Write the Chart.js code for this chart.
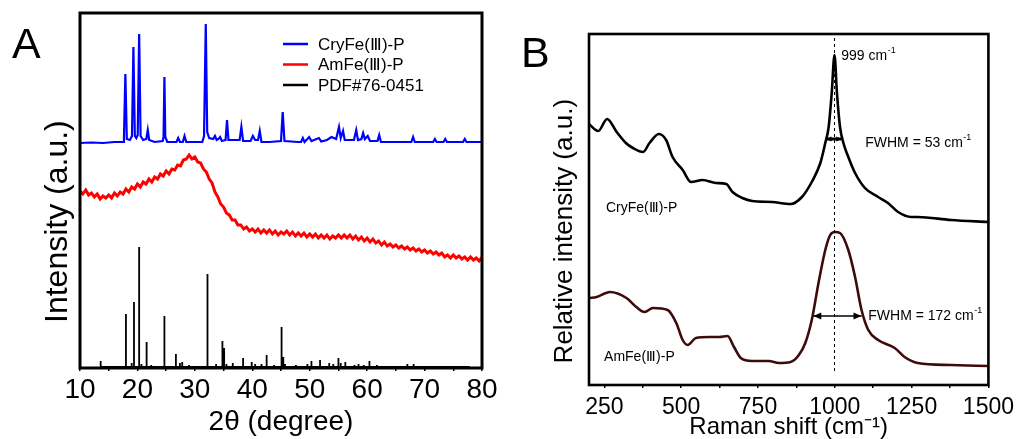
<!DOCTYPE html>
<html><head><meta charset="utf-8">
<script src="https://cdn.jsdelivr.net/npm/chart.js@4.4.1/dist/chart.umd.min.js"></script>
<style>
html,body{margin:0;padding:0;background:#fff;width:1020px;height:439px;overflow:hidden;}
.panel{position:absolute;top:0;width:510px;height:439px;}
.lbl{position:absolute;font-family:'Liberation Sans',Arial,sans-serif;font-size:43px;line-height:43px;color:#000;}
</style></head><body>
<div class="panel" style="left:0"><canvas id="cA" width="510" height="439" style="width:510px;height:439px"></canvas></div>
<div class="panel" style="left:510px"><canvas id="cB" width="510" height="439" style="width:510px;height:439px"></canvas></div>
<div class="lbl" style="left:12px;top:22px">A</div>
<div class="lbl" style="left:521px;top:31px">B</div>
<script>
// ---------------- Panel A : XRD ----------------
const xrdTicks = [10,15,20,25,30,35,40,45,50,55,60,65,70,75,80];
const xrdLabels = ['CryFe(Ⅲ)-P','AmFe(Ⅲ)-P','PDF#76-0451'];

const cryTheta = [10,12,14,16,17.5,17.65,17.9,18.15,18.7,19.05,19.3,19.55,19.8,20.05,20.3,20.55,21.0,21.55,21.8,22.05,23,24.4,24.55,24.7,24.85,25.2,26.8,27.1,27.4,27.9,28.2,28.5,31.3,31.6,31.9,32.15,32.5,33.2,33.5,33.8,34.1,34.4,34.7,35.35,35.6,35.85,37.8,38.1,38.4,39.7,40.1,40.5,41.0,41.3,41.6,43,45.0,45.3,45.6,48,48.5,48.8,49.1,49.9,50.3,51.6,52,53,53.8,54.6,55.1,55.4,55.8,56.1,57.7,58.1,58.4,59.0,59.3,59.6,60.1,60.5,61.8,62.1,62.4,65,67.7,68.0,68.3,71.5,71.8,72.1,73.3,73.6,73.9,76.7,77.0,77.3,80];
const cryInt   = [225,225.5,225,226,226,229,294,229,228,232,321,232,230,233,334,232,228,229,238,228,226,227,231,291,231,226,226,230,226,226,232,226,226,232,344,236,230,229,232,228,229,231,227,228,248,228,228,241,227,227,232,228,228,237,226,226,227,256,227,226,226,230,226,231,227,230,226.5,228,231,229,241,230,237,228,228,238,228,229,235,229,232,227,227,233,226,226,226,231,226,226,229,226,226,229,226,226,229,226,226];

const amTheta = [10,10.5,11,11.5,12,12.5,13,13.5,14,14.5,15,15.5,16,16.5,17,17.5,18,18.5,19,19.5,20,20.5,21,21.5,22,22.5,23,23.5,24,24.5,25,25.5,26,26.5,27,27.5,28,28.5,29,29.5,30,30.5,31,31.5,32,32.5,33,33.5,34,34.5,35,35.5,36,36.5,37,37.5,38,38.5,39,39.5,40,40.5,41,41.5,42,42.5,43,43.5,44,44.5,45,45.5,46,46.5,47,47.5,48,48.5,49,49.5,50,50.5,51,51.5,52,52.5,53,53.5,54,54.5,55,55.5,56,56.5,57,57.5,58,58.5,59,59.5,60,60.5,61,61.5,62,62.5,63,63.5,64,64.5,65,65.5,66,66.5,67,67.5,68,68.5,69,69.5,70,70.5,71,71.5,72,72.5,73,73.5,74,74.5,75,75.5,76,76.5,77,77.5,78,78.5,79,79.5,80];
const amInt   = [177,174,178,173,175,171,174,169,172,170,173,170,175,172,176,174,179,176,181,179,184,181,186,184,189,186,191,189,194,192,197,194,199,198,203,202,208,209,213,209,211,206,205,199,196,189,185,176,171,164,161,155,153,148,148,143,143,139,141,137,139,136,139,135,138,135,138,134,137,133,136,134,137,133,136,132,135,132,135,131,134,131,134,130,133,130,133,129,132,130,133,130,133,130,133,129,132,128,131,127,130,126,129,125,127,123,126,122,124,121,123,120,122,119,121,118,120,117,119,116,118,115,117,114,116,113,115,111,113,110,113,110,112,109,111,108,111,108,110,107,111];

const pdfTheta = [13.6,18.0,19.0,19.4,20.3,20.7,21.6,22.4,24.7,26.7,27.4,27.8,29.0,32.2,33.7,34.8,35.1,35.5,36.6,38.4,39.9,40.5,41.6,42.5,43.8,45.1,45.4,45.7,47.6,49.6,50.3,51.8,53.4,54.1,55.0,55.4,56.2,57.8,58.5,59.4,60.4,61.7,62.4,64.6,67.0,68.1,71.6,75.3,76.2,77.7];
const pdfInt   = [7,54,5,66,121,4,26,3,52,14,5,6,3,94,4,27,20,4,5,10,6,4,4,13,3,41,11,4,3,4,7,8,5,4,10,5,6,3,4,3,7,3,2,2,4,4,2,2,2,2];
const pdfBase = 1;

// ---------------- Panel B : Raman ----------------
const ramanTicks = [250,375,500,625,750,875,1000,1125,1250,1375,1500];
const ramanLabels = ['CryFe(Ⅲ)-P','AmFe(Ⅲ)-P'];
const cryShift = [200,230,259,290,320,343,376,397,427,451,472,505,532,570,613,647,667,699,731,796,856,893,925,953,969,980,990,999,1007,1017,1028,1044,1066,1098,1141,1173,1206,1249,1270,1378,1500];
const cryRaman = [261,254,266,253,242,237,233,242,251,245,228,215,203,205,202,201,193,187,184,183,181,188,203,222,242,258,292,330,292,258,242,228,212,197,188,182,173,168,168,165,163];
const amShift = [200,225,268,322,354,381,408,456,484,505,521,548,591,624,651,672,694,731,785,818,856,883,904,925,947,969,985,1001,1017,1044,1066,1087,1109,1141,1195,1227,1270,1378,1500];
const amRaman = [87,88,93,87,78,73,77,75,62,45,40,47,48,48,49,38,27,24,24,22,23,30,42,65,102,135,150,153,152,135,108,75,55,45,37,28,22,20,19];
const peakShift = 999;
const fwhmCry = [973,1021];  // FWHM = 53
const fwhmAm  = [930,1087];  // FWHM = 172

const FONT = "'Liberation Sans', Arial, sans-serif";
const pairs = (xs, ys) => xs.map((x, i) => ({x, y: ys[i]}));

function stickData() {
  const out = [];
  pdfTheta.forEach((t, i) => {
    out.push({x: t, y: pdfBase}, {x: t, y: pdfInt[i]}, {x: t, y: pdfBase});
  });
  return out;
}

const framePlugin = {
  id: 'frame',
  afterDatasetsDraw(chart, args, opts) {
    const {ctx, chartArea: a} = chart;
    ctx.save();
    ctx.strokeStyle = '#000';
    ctx.lineWidth = opts.width || 2.5;
    ctx.strokeRect(a.left, a.top, a.right - a.left, a.bottom - a.top);
    ctx.restore();
  }
};

function drawSupText(ctx, x, y, main, sup, size) {
  ctx.font = size + 'px ' + FONT;
  ctx.textBaseline = 'middle';
  ctx.textAlign = 'left';
  ctx.fillStyle = '#000';
  ctx.fillText(main, x, y);
  if (sup) {
    const w = ctx.measureText(main).width;
    ctx.font = Math.round(size * 0.64) + 'px ' + FONT;
    ctx.fillText(sup, x + w + 0.5, y - size * 0.42);
  }
}

const legendPlugin = {
  id: 'boxLegend',
  afterDraw(chart, args, opts) {
    if (!opts.items) return;
    const {ctx} = chart;
    ctx.save();
    opts.items.forEach((it, i) => {
      const y = opts.y + i * opts.gap;
      ctx.strokeStyle = it.color;
      ctx.lineWidth = 2.5;
      ctx.beginPath();
      ctx.moveTo(opts.x, y);
      ctx.lineTo(opts.x + opts.len, y);
      ctx.stroke();
      ctx.font = opts.size + 'px ' + FONT;
      ctx.fillStyle = '#000';
      ctx.textBaseline = 'middle';
      ctx.textAlign = 'left';
      ctx.fillText(it.text, opts.x + opts.len + 10, y + 1);
    });
    ctx.restore();
  }
};

const notePlugin = {
  id: 'notes',
  afterDatasetsDraw(chart, args, opts) {
    if (!opts.texts) return;
    const {ctx, scales: {x, y}} = chart;
    ctx.save();
    opts.texts.forEach(t => {
      drawSupText(ctx, x.getPixelForValue(t.x), y.getPixelForValue(t.y), t.text, t.sup, opts.size);
    });
    (opts.arrows || []).forEach(ar => {
      const x1 = x.getPixelForValue(ar.from), x2 = x.getPixelForValue(ar.to), yy = y.getPixelForValue(ar.y);
      ctx.fillStyle = '#000';
      [[x1, 1], [x2, -1]].forEach(([px, dir]) => {
        ctx.beginPath();
        ctx.moveTo(px, yy);
        ctx.lineTo(px + dir * ar.len, yy - ar.half);
        ctx.lineTo(px + dir * ar.len, yy + ar.half);
        ctx.closePath();
        ctx.fill();
      });
    });
    ctx.restore();
  }
};

Chart.register(framePlugin, legendPlugin, notePlugin);

new Chart(document.getElementById('cA'), {
  type: 'line',
  data: {
    datasets: [
      {label: xrdLabels[2], data: stickData(), borderColor: '#000', borderWidth: 1.8, pointRadius: 0, tension: 0, borderJoinStyle: 'bevel'},
      {label: xrdLabels[1], data: pairs(amTheta, amInt), borderColor: '#ff0000', borderWidth: 3, pointRadius: 0, tension: 0},
      {label: xrdLabels[0], data: pairs(cryTheta, cryInt), borderColor: '#0000ff', borderWidth: 2.2, pointRadius: 0, tension: 0}
    ]
  },
  options: {
    responsive: false, animation: false, events: [],
    layout: {padding: {top: 13, right: 28, left: 0, bottom: 0}},
    plugins: {
      legend: {display: false}, tooltip: {enabled: false},
      frame: {width: 3},
      boxLegend: {x: 283, y: 44, gap: 20.5, len: 25, size: 17,
        items: [{text: xrdLabels[0], color: '#0000ff'}, {text: xrdLabels[1], color: '#ff0000'}, {text: xrdLabels[2], color: '#000'}]}
    },
    scales: {
      x: {
        type: 'linear', min: 10, max: 80, offset: false,
        afterBuildTicks: s => { s.ticks = xrdTicks.map(v => ({value: v})); },
        ticks: {autoSkip: false, maxRotation: 0, padding: 2, color: '#000', font: {family: FONT, size: 28},
          callback: v => (v % 10 === 0 ? String(v) : '')},
        grid: {display: true, drawOnChartArea: false, drawTicks: true, tickLength: 3, color: '#000', lineWidth: 1.5},
        border: {display: false},
        title: {display: true, text: '2θ (degree)', color: '#000', font: {family: FONT, size: 28}, padding: 0},
        afterFit: s => { s.height = 71; }
      },
      y: {
        type: 'linear', min: 0, max: 355,
        ticks: {display: false}, grid: {display: false}, border: {display: false},
        title: {display: true, text: 'Intensity (a.u.)       ', color: '#000', font: {family: FONT, size: 32}, padding: {top: 39, bottom: 0}},
        afterFit: s => { s.width = 80; }
      }
    }
  }
});

new Chart(document.getElementById('cB'), {
  type: 'line',
  data: {
    datasets: [
      {data: [{x: peakShift, y: 347}, {x: peakShift, y: 13}], borderColor: '#000', borderWidth: 1, borderDash: [3, 3], pointRadius: 0},
      {label: ramanLabels[0], data: pairs(cryShift, cryRaman), borderColor: '#000', borderWidth: 2.6, pointRadius: 0, cubicInterpolationMode: 'monotone'},
      {label: ramanLabels[1], data: pairs(amShift, amRaman), borderColor: '#3d0b0b', borderWidth: 2.6, pointRadius: 0, cubicInterpolationMode: 'monotone'},
      {data: [{x: fwhmCry[0], y: 246}, {x: fwhmCry[1], y: 246}], borderColor: '#000', borderWidth: 3, pointRadius: 0},
      {data: [{x: fwhmAm[0], y: 69}, {x: fwhmAm[1], y: 69}], borderColor: '#000', borderWidth: 1.5, pointRadius: 0}
    ]
  },
  options: {
    responsive: false, animation: false, events: [],
    layout: {padding: {top: 34, right: 29, left: 0, bottom: 0}},
    plugins: {
      legend: {display: false}, tooltip: {enabled: false},
      frame: {width: 2.6},
      notes: {size: 14,
        texts: [
          {x: 1021, y: 329, text: '999 cm', sup: '-1'},
          {x: 1099, y: 242, text: 'FWHM = 53 cm', sup: '-1'},
          {x: 1109, y: 69, text: 'FWHM = 172 cm', sup: '-1'},
          {x: 255, y: 177, text: ramanLabels[0]},
          {x: 249, y: 28, text: ramanLabels[1]}
        ],
        arrows: [
          {from: fwhmAm[0], to: fwhmAm[1], y: 69, len: 8, half: 3.5},
          {from: fwhmCry[0], to: fwhmCry[1], y: 246, len: 5, half: 2.5}
        ]
      }
    },
    scales: {
      x: {
        type: 'linear', min: 200, max: 1500, offset: false,
        afterBuildTicks: s => { s.ticks = ramanTicks.map(v => ({value: v})); },
        ticks: {autoSkip: false, maxRotation: 0, padding: 6, color: '#000', font: {family: FONT, size: 23},
          callback: v => (v % 250 === 0 ? String(v) : '')},
        grid: {display: true, drawOnChartArea: false, drawTicks: true, tickLength: 3, color: '#000', lineWidth: 1.5},
        border: {display: false},
        title: {display: true, text: 'Raman shift (cm⁻¹)', color: '#000', font: {family: FONT, size: 24, lineHeight: 1}, padding: 0},
        afterFit: s => { s.height = 54; }
      },
      y: {
        type: 'linear', min: 0, max: 351,
        ticks: {display: false}, grid: {display: false}, border: {display: false},
        title: {display: true, text: 'Relative intensity (a.u.)      ', color: '#000', font: {family: FONT, size: 26}, padding: {top: 39, bottom: 0}},
        afterFit: s => { s.width = 79; }
      }
    }
  }
});
</script>
</body></html>
